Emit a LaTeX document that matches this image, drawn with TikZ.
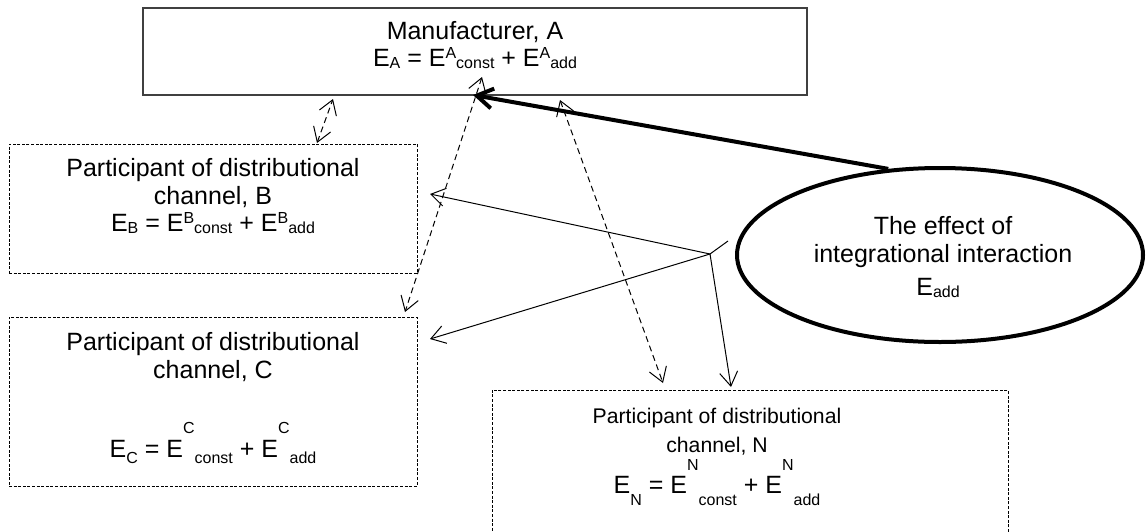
\documentclass[tikz,border=0pt]{standalone}
\usepackage{fontspec}
\setmainfont{Liberation Sans}
\usetikzlibrary{arrows.meta,shapes.geometric}
\newcommand{\upidx}[2][4pt]{\raisebox{#1}{\fontsize{8pt}{9pt}\selectfont #2}}
\newcommand{\dnidx}[2][-1pt]{\raisebox{#1}{\fontsize{8pt}{9pt}\selectfont #2}}

\begin{document}
\begin{tikzpicture}[x=0.5pt,y=-0.5pt,
  txt/.style={inner sep=0pt,anchor=base,font=\fontsize{12.5pt}{15pt}\selectfont},
  small/.style={font=\fontsize{10.6pt}{13pt}\selectfont},
  mbox/.style={draw=black!75,line width=0.6pt,rectangle,inner sep=0pt},
  pbox/.style={draw,line width=0.4pt,dash pattern=on 1.5pt off 0.8pt,rectangle,inner sep=0pt},
  tip/.style={line width=0.5pt,-{Straight Barb[length=7pt,width=9pt]}},
  dtip/.style={line width=0.5pt,dash pattern=on 3pt off 2pt,{Straight Barb[length=7pt,width=9pt]}-{Straight Barb[length=7pt,width=9pt]}}]
\useasboundingbox (0,0) rectangle (1146,531);
\clip (0,0) rectangle (1146,531);
% manufacturer
\node[mbox,minimum width=332pt,minimum height=43.5pt] (A) at (475,51.5) {};
\node[txt] (A1) at (475,39) {Manufacturer, A};
\node[txt] (A2) at (475,66) {E\dnidx{A} = E\upidx{A}\dnidx{const} + E\upidx{A}\dnidx{add}};
% participants
\node[pbox,minimum width=204pt,minimum height=64.5pt] (B) at (213,208.5) {};
\node[txt] (B1) at (213,176) {Participant of distributional};
\node[txt] (B2) at (213,204) {channel, B};
\node[txt] (B3) at (213,231) {E\dnidx{B} = E\upidx{B}\dnidx{const} + E\upidx{B}\dnidx{add}};
\node[pbox,minimum width=204pt,minimum height=84.5pt] (C) at (213,401.5) {};
\node[txt] (C1) at (213,350) {Participant of distributional};
\node[txt] (C2) at (213,378) {channel, C};
\node[txt] (C3) at (213,457) {E\dnidx[-3pt]{C} = E\upidx[12pt]{C}\dnidx[-3pt]{const} + E\upidx[12pt]{C}\dnidx[-3pt]{add}};
\node[pbox,minimum width=258pt,minimum height=77.5pt] (N) at (750,467.5) {};
\node[txt,small] (N1) at (717,423) {Participant of distributional};
\node[txt,small] (N2) at (717,452) {channel, N};
\node[txt] (N3) at (717,493) {E\dnidx[-6pt]{N} = E\upidx[11.5pt]{N}\dnidx[-6pt]{const} + E\upidx[11.5pt]{N}\dnidx[-6pt]{add}};
% effect
\node[draw,ellipse,line width=2pt,inner sep=0pt,minimum width=203pt,minimum height=87pt] (Eff) at (940,255) {};
\node[txt] (Eff1) at (943,234) {The effect of};
\node[txt] (Eff2) at (943,262) {integrational interaction};
\node[txt] (Eff3) at (938,295) {E\dnidx{add}};
% arrow ends
\coordinate (aIn) at (473,95);
\coordinate (hub) at (710,254);
\coordinate (stub) at (728,241);
\coordinate (bIn) at (430,194);
\coordinate (cIn) at (430,339);
\coordinate (nIn) at (731,387);
\draw[line width=2pt,-{Straight Barb[length=8pt,width=10pt]}] (Eff.121) -- (aIn);
\draw[line width=0.5pt] (hub) -- (stub);
\foreach \p in {bIn,cIn,nIn}{\draw[tip] (hub) -- (\p);}
\draw[dtip] (317,143) -- (333,99);
\draw[dtip] (482,77) -- (405,312);
\draw[dtip] (560,100) -- (663,383);
\end{tikzpicture}
\end{document}
